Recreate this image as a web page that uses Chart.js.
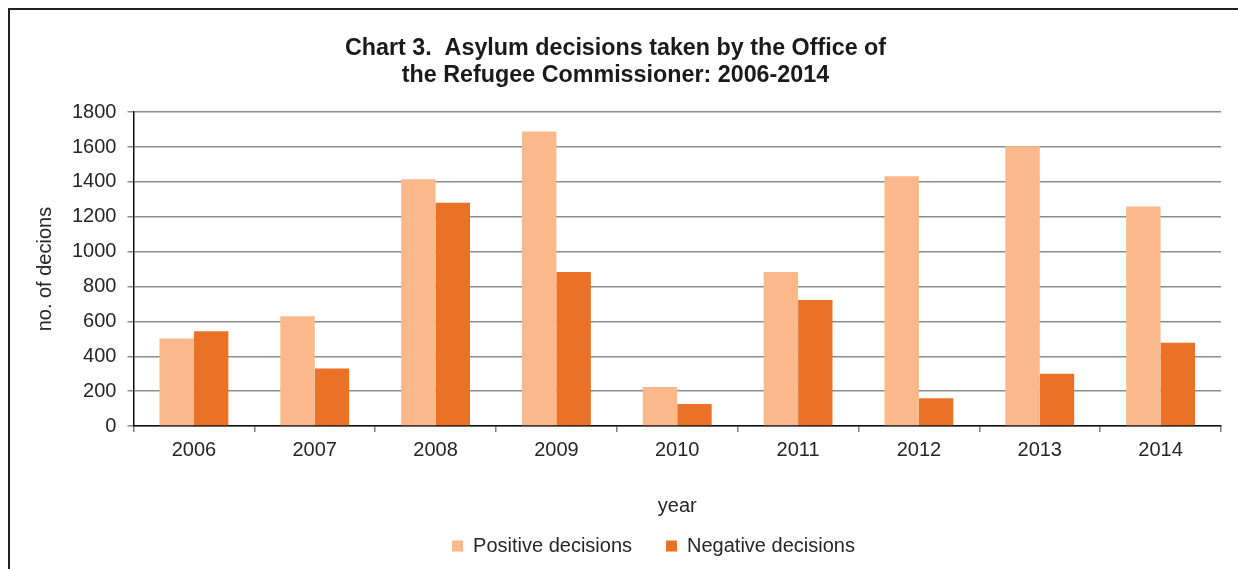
<!DOCTYPE html>
<html>
<head>
<meta charset="utf-8">
<script src="https://cdn.jsdelivr.net/npm/chart.js@4"></script>
<style>
  body { margin: 0; background: #fff; }
  #wrap { position: relative; width: 1238px; height: 569px; overflow: hidden; }
  #frame {
    position: absolute; left: 8px; top: 8px; width: 1300px; height: 700px;
    border-left: 2px solid #222; border-top: 2px solid #222; pointer-events: none;
  }
  canvas { position: absolute; left: 0; top: 0; }
</style>
</head>
<body>
<div id="wrap">
  <canvas id="decisionsChart" width="1238" height="569"></canvas>
  <div id="frame"></div>
</div>
<script>
// Data
const years = ["2006", "2007", "2008", "2009", "2010", "2011", "2012", "2013", "2014"];
const positiveDecisions = [502, 629, 1415, 1689, 224, 884, 1432, 1604, 1259];
const negativeDecisions = [544, 330, 1281, 884, 126, 723, 159, 299, 477];
const yTicks = [0, 200, 400, 600, 800, 1000, 1200, 1400, 1600, 1800];

const textColor = "#262626";
const fontFamily = "'Liberation Sans', Arial, sans-serif";

Chart.defaults.font.family = fontFamily;
Chart.defaults.color = textColor;

const ctx = document.getElementById("decisionsChart").getContext("2d");
const decisionsChart = new Chart(ctx, {
    type: "bar",
    data: {
        labels: years,
        datasets: [{
            label: "Positive decisions",
            data: positiveDecisions,
            backgroundColor: "#FBB98B"
        }, {
            label: "Negative decisions",
            data: negativeDecisions,
            backgroundColor: "#E97226"
        }]
    },
    options: {
        responsive: false,
        animation: false,
        layout: {
            padding: { left: 10, right: 17, top: 22, bottom: 3 }
        },
        datasets: {
            bar: { barPercentage: 1, categoryPercentage: 0.57 }
        },
        scales: {
            x: {
                grid: {
                    display: true,
                    drawOnChartArea: false,
                    offset: true,
                    tickLength: 6,
                    color: "#7f7f7f",
                    lineWidth: 1.5
                },
                border: { color: "#111", width: 1.5 },
                ticks: { font: { size: 20 }, padding: 6, color: textColor },
                title: {
                    display: true,
                    text: "year",
                    font: { size: 20 },
                    padding: { top: 26, bottom: -16 },
                    color: textColor
                }
            },
            y: {
                min: 0,
                max: 1800,
                afterBuildTicks: function(axis) {
                    axis.ticks = yTicks.map(v => ({ value: v }));
                },
                grid: {
                    color: "#8c8c8c",
                    lineWidth: 1.5,
                    tickLength: 6
                },
                border: { color: "#111", width: 1.5 },
                ticks: {
                    font: { size: 20 },
                    padding: 11,
                    color: textColor,
                    callback: function(value) { return String(value); }
                },
                title: {
                    display: true,
                    text: "no. of decions",
                    font: { size: 20 },
                    padding: { top: 23, bottom: 4 },
                    color: textColor
                }
            }
        },
        plugins: {
            title: {
                display: true,
                text: ["Chart 3.  Asylum decisions taken by the Office of", "the Refugee Commissioner: 2006-2014"],
                font: { size: 23.3, weight: "bold", lineHeight: 1.12 },
                color: "#1a1a1a",
                padding: { top: 14, bottom: 24 }
            },
            legend: {
                position: "bottom",
                labels: {
                    boxWidth: 11,
                    boxHeight: 11,
                    padding: 34,
                    font: { size: 20 },
                    color: textColor
                }
            },
            tooltip: { enabled: false }
        }
    }
});

// the legend sits a little right of the page centre in the original
const legendDraw = decisionsChart.legend.draw;
decisionsChart.legend.draw = function() {
    ctx.save();
    ctx.translate(38, 0);
    legendDraw.apply(this, arguments);
    ctx.restore();
};
decisionsChart.draw();
</script>
</body>
</html>
